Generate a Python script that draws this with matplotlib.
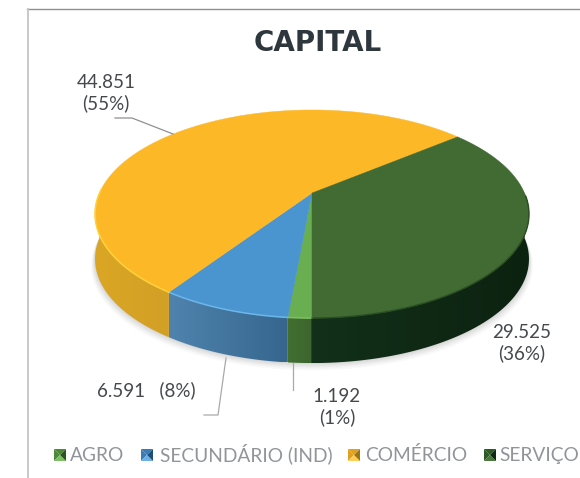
import numpy as np
import matplotlib
matplotlib.use("Agg")
import matplotlib.pyplot as plt
from matplotlib.colors import to_rgb
from matplotlib.patches import Polygon

# chart data
categories = ['AGRO', 'SECUNDÁRIO (IND)', 'COMÉRCIO', 'SERVIÇO']
values = [1192, 6591, 44851, 29525]
top_colors = ['#69ae50', '#4a94d0', '#fdb827', '#426a33']
side_left = ['#42702f', '#4f83ad', '#dba624', '#12301a']
side_right = ['#3c6430', '#36668e', '#d2a026', '#0c2210']
swatch_top = ['#4c8a38', '#3a7cb4', '#e0a020', '#2e5a26']
swatch_bottom = ['#7cc063', '#6cb0e6', '#ffcc55', '#4c7a3c']
swatch_right = ['#2a5420', '#1d4f7c', '#9c7410', '#0e2a14']
value_labels = [['1.192', '(1%)'], ['6.591   (8%)'], ['44.851', '(55%)'], ['29.525', '(36%)']]

plt.rcParams['font.family'] = ['Lato', 'DejaVu Sans']
TEXT = '#45494c'

fig = plt.figure(figsize=(5.8, 4.78), dpi=100)
ax = fig.add_axes([0, 0, 1, 1])
ax.axis('off')

# perspective of the pie disc
CX, CY = 312, 193
B, A, K = 212.5, 99.8, 0.202
DEPTH = 45


def project(theta):
    # theta is degrees clockwise from the top of the pie
    t = np.radians(theta)
    u, v = np.sin(t), np.cos(t)
    d = 1 + K * v
    return CX + B * u / d, CY - A * v / d


fracs = np.array(values) / sum(values)
edges = 180 + np.concatenate([[0], np.cumsum(fracs)]) * 360

# soft shadow round the front edge
sx, sy = project(np.linspace(80, 280, 200))
for grow, alpha in zip([9, 7, 5, 3, 1], [0.03, 0.04, 0.05, 0.06, 0.08]):
    pts = np.c_[CX + (sx - CX) * (1 + grow / 500), sy + DEPTH + grow * 0.8]
    ax.add_patch(Polygon(pts, closed=True, fc='#555555', ec='none', alpha=alpha, zorder=1))

# sides, only the part facing the viewer
for i in range(4):
    angles = np.arange(edges[i], edges[i + 1] + 0.25, 0.25)
    angles = angles[(angles % 360 >= 90) & (angles % 360 <= 270)]
    xs, ys = project(angles)
    poly = Polygon(np.r_[np.c_[xs, ys], np.c_[xs, ys + DEPTH][::-1]], closed=True, fc='none', ec='none', zorder=2)
    ax.add_patch(poly)
    grad = np.linspace(0, 1, 64).reshape(1, -1, 1)
    c0, c1 = np.array(to_rgb(side_left[i])), np.array(to_rgb(side_right[i]))
    im = ax.imshow(c0 + (c1 - c0) * grad, extent=[xs.min(), xs.max(), ys.max() + DEPTH, ys.min()],
                   aspect='auto', zorder=3)
    im.set_clip_path(poly)

ax.set_xlim(0, 580)
ax.set_ylim(478, 0)

# top of the disc
for i in range(4):
    xs, ys = project(np.linspace(edges[i], edges[i + 1], 200))
    ax.add_patch(Polygon(np.r_[[[CX, CY]], np.c_[xs, ys]], closed=True, fc=top_colors[i], ec=top_colors[i], lw=0.3, zorder=4))

# light rim on the front edge
for start, end, color in [(185.2, edges[2], '#6db6ea'), (edges[2], 272, '#ffd23c'), (180, 185.2, '#7cc063')]:
    xs, ys = project(np.linspace(start, end, 80))
    ax.plot(xs, ys, color=color, lw=1.1, zorder=5)
xs, ys = project(np.linspace(92, 180, 100))
ax.plot(xs, ys, color='#2a4d22', lw=1.0, zorder=5)

# leader lines
LEADER = '#a9a9a9'
ax.plot([115, 132, 173], [118, 118, 134], color='#909090', lw=0.9, zorder=6)
ax.plot([226, 218, 204], [358, 415, 415], color=LEADER, lw=0.9, zorder=1)
ax.plot([293, 293], [363, 390], color=LEADER, lw=0.9, zorder=1)

# frame lines
ax.plot([27, 580], [9, 9], color='#8f8f8f', lw=1.0)
ax.plot([28, 28], [9, 478], color='#c8c8c8', lw=1.4)

ax.text(317.5, 51, 'CAPITAL', fontsize=20, fontweight='bold', family='DejaVu Sans', color='#2e373d', ha='center', va='baseline')

label_pos = [(337, 407), (146, 390), (106, 93), (522, 343)]
for lines, (x, y) in zip(value_labels, label_pos):
    ax.text(x, y, '\n'.join(lines), fontsize=13.5, color=TEXT, ha='center', va='center',
            linespacing=1.25, zorder=7)

# legend with little pyramid keys
swatch_x = [54, 141, 348, 484]
text_x = [70, 160, 365, 499]
LY = 455
S = 6
for i, name in enumerate(categories):
    x = swatch_x[i] + S
    tl, tr, br, bl = (x - S, LY - S), (x + S, LY - S), (x + S, LY + S), (x - S, LY + S)
    mid = (x, LY)
    ax.add_patch(Polygon([tl, tr, mid], fc=swatch_top[i], ec='none'))
    ax.add_patch(Polygon([tl, bl, mid], fc=swatch_top[i], ec='none'))
    ax.add_patch(Polygon([bl, br, mid], fc=swatch_bottom[i], ec='none'))
    ax.add_patch(Polygon([tr, br, mid], fc=swatch_right[i], ec='none'))
    ax.text(text_x[i], 461, name, fontsize=13.8, color='#90959a', ha='left', va='baseline')

fig.savefig('out.png', dpi=100)
